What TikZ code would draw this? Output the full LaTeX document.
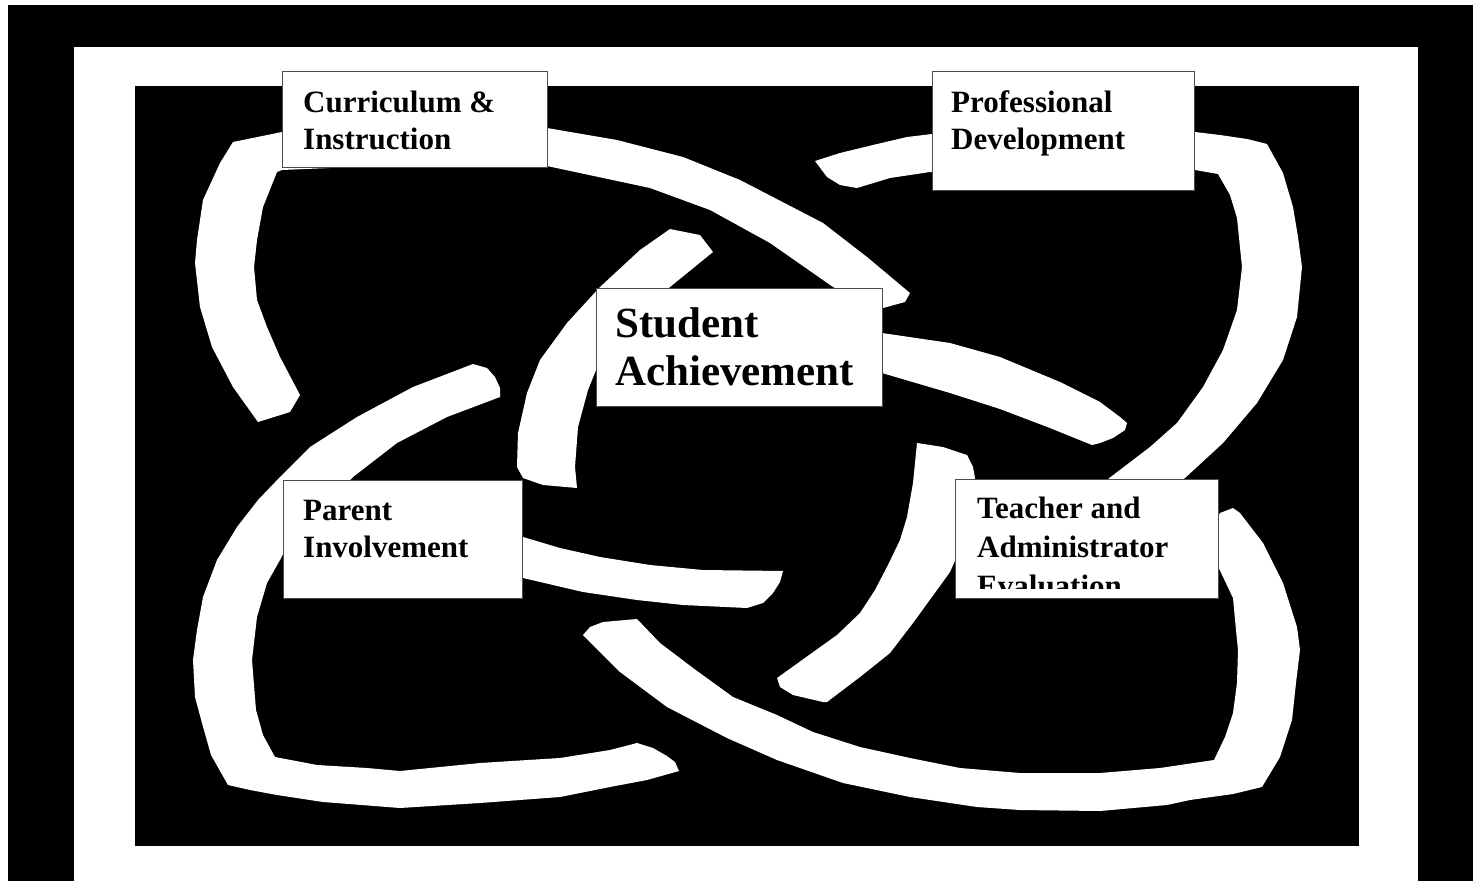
\documentclass[tikz,border=0pt]{standalone}
\usepackage{fontspec}
\setmainfont{Liberation Serif}
\newcommand{\twol}[2]{\vtop{\hbox{#1}\hbox{#2}}}
\newcommand{\threel}[3]{\vtop{\hbox{#1}\hbox{#2}\hbox{#3}}}
\tikzset{
  band/.style={fill=white, draw=none},
  box/.style={draw=black!70, line width=1.2pt, fill=white, inner sep=0pt, anchor=north west},
  lbl/.style={font=\bfseries\fontsize{31}{37}\selectfont, inner sep=0pt, anchor=base west},
  biglbl/.style={font=\bfseries\fontsize{43}{48}\selectfont, inner sep=0pt, anchor=base west},
}
\begin{document}
\begin{tikzpicture}[x={(1pt,0)}, y={(0,-1pt)}]
\useasboundingbox (0,0) rectangle (1473,881);
% frames
\fill[white] (0,0) rectangle (1473,881);
\fill[black] (8,5) rectangle (1473,881);
\fill[white] (74,47) rectangle (1418,881);
\fill[black] (135,86) rectangle (1359,846);

% R1: top-left loop
\fill[band] (258,422) -- (233,387) -- (212,347) -- (200,307) -- (195,263) -- (197,240) -- (203,200) -- (220,163) -- (233,142) -- (282,132) -- (400,126) -- (547,128) -- (617,140) -- (683,157) -- (740,180) -- (823,223) -- (867,257) -- (910,293) -- (905,302) -- (883,308) -- (860,300) -- (833,287) -- (770,243) -- (710,210) -- (650,188) -- (547,166) -- (400,165) -- (282,170) -- (277,172) -- (263,207) -- (257,240) -- (254,267) -- (257,300) -- (267,327) -- (280,357) -- (300,395) -- (290,412) -- cycle;

% C1: centre top-left arc
\fill[band] (670,229) -- (700,235) -- (713,252) -- (670,287) -- (630,320) -- (600,360) -- (588,390) -- (578,427) -- (575,467) -- (577,488) -- (543,485) -- (523,478) -- (517,467) -- (518,433) -- (527,393) -- (540,360) -- (567,323) -- (600,287) -- (640,250) -- cycle;

% C2: arc right of Student box
\fill[band] (870,333) -- (882,333) -- (950,343) -- (1000,357) -- (1060,382) -- (1100,402) -- (1120,417) -- (1127,423) -- (1125,430) -- (1113,438) -- (1100,443) -- (1092,445) -- (1050,428) -- (1000,409) -- (950,393) -- (882,373) -- (870,373) -- cycle;

% R2: top-right loop
\fill[band] (815,161) -- (840,153) -- (873,145) -- (907,137) -- (932,134) -- (1000,130) -- (1195,132) -- (1220,135) -- (1247,139) -- (1267,144) -- (1283,173) -- (1293,207) -- (1298,237) -- (1302,267) -- (1297,317) -- (1283,360) -- (1257,403) -- (1223,443) -- (1185,478) -- (1150,500) -- (1108,479) -- (1150,447) -- (1177,423) -- (1203,387) -- (1223,350) -- (1237,310) -- (1242,267) -- (1237,218) -- (1230,195) -- (1218,174) -- (1195,170) -- (1100,172) -- (930,172) -- (890,178) -- (857,188) -- (840,185) -- (827,177) -- cycle;

% C4: arc left of Teacher box
\fill[band] (917,443) -- (943,447) -- (967,455) -- (973,467) -- (975,478) -- (972,510) -- (962,545) -- (950,572) -- (937,590) -- (913,623) -- (890,653) -- (860,677) -- (827,702) -- (823,702) -- (793,695) -- (780,687) -- (777,678) -- (837,635) -- (860,613) -- (875,590) -- (888,565) -- (900,540) -- (907,517) -- (913,483) -- cycle;

% R3: bottom-left loop
\fill[band] (473,364) -- (487,368) -- (495,377) -- (500,388) -- (500,397) -- (447,417) -- (397,443) -- (353,477) -- (320,510) -- (290,540) -- (280,560) -- (267,583) -- (257,617) -- (252,660) -- (256,710) -- (263,735) -- (275,757) -- (317,765) -- (367,768) -- (400,771) -- (480,763) -- (560,758) -- (610,750) -- (637,743) -- (653,748) -- (667,756) -- (675,762) -- (679,771) -- (647,780) -- (610,787) -- (560,797) -- (480,803) -- (400,808) -- (323,802) -- (277,795) -- (250,790) -- (228,785) -- (211,755) -- (202,723) -- (195,697) -- (193,660) -- (197,630) -- (203,597) -- (217,560) -- (237,527) -- (258,500) -- (280,477) -- (310,447) -- (357,417) -- (413,387) -- cycle;

% R4: bottom-right loop
\fill[band] (583,635) -- (590,627) -- (603,622) -- (637,619) -- (660,643) -- (693,668) -- (733,697) -- (777,715) -- (813,732) -- (860,747) -- (910,758) -- (960,768) -- (1020,773) -- (1100,773) -- (1160,768) -- (1214,760) -- (1225,737) -- (1233,713) -- (1237,683) -- (1238,650) -- (1236,630) -- (1233,598) -- (1215,560) -- (1210,530) -- (1220,513) -- (1233,508) -- (1240,513) -- (1263,543) -- (1283,583) -- (1297,627) -- (1300,650) -- (1296,683) -- (1292,720) -- (1280,757) -- (1262,787) -- (1233,794) -- (1190,800) -- (1167,805) -- (1100,811) -- (1020,810) -- (977,807) -- (910,797) -- (843,783) -- (777,760) -- (727,738) -- (667,707) -- (620,672) -- cycle;

% C3: arc right of Parent box
\fill[band] (510,537) -- (523,537) -- (560,548) -- (600,557) -- (650,565) -- (703,570) -- (783,571) -- (780,582) -- (773,593) -- (763,603) -- (747,608) -- (683,605) -- (637,600) -- (583,592) -- (523,578) -- (510,578) -- cycle;

% boxes
\node[box, minimum width=265pt, minimum height=96pt] (cur) at (282,71) {};
\node[lbl] (curt) at (303,112) {\twol{Curriculum \&}{Instruction}};

\node[box, minimum width=262pt, minimum height=119pt] (pro) at (932,71) {};
\node[lbl] (prot) at (951,112) {\twol{Professional}{Development}};

\node[box, minimum width=286pt, minimum height=118pt] (stu) at (596,288) {};
\node[biglbl] (stut) at (615,337) {\twol{Student}{Achievement}};

\node[box, minimum width=239pt, minimum height=118pt] (par) at (283,480) {};
\node[lbl] (part) at (303,520) {\twol{Parent}{Involvement}};

\node[box, minimum width=263pt, minimum height=119pt] (tea) at (955,479) {};
\begin{scope}
\clip (955,479) rectangle (1218,588);
\node[lbl, font=\bfseries\fontsize{31}{39}\selectfont] (teat) at (977,518) {\threel{Teacher and}{Administrator}{Evaluation}};
\end{scope}
\end{tikzpicture}
\end{document}
